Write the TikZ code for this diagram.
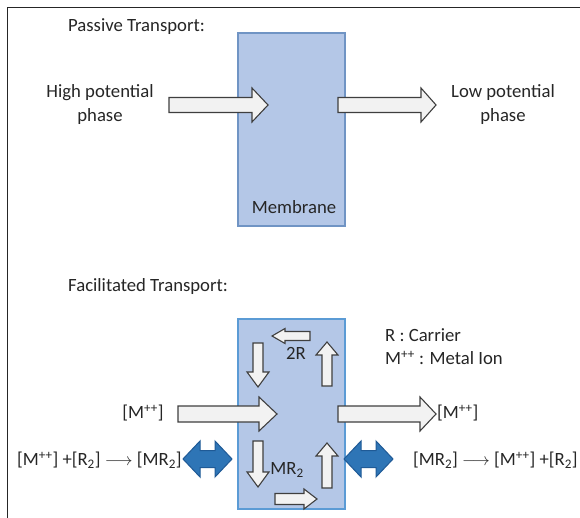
\documentclass[tikz,border=0pt]{standalone}
\usepackage{fontspec}
\setmainfont{Carlito}
\definecolor{membfill}{HTML}{B4C7E7}
\definecolor{membedgeA}{HTML}{7094C4}
\definecolor{membedgeB}{HTML}{5B9BD5}
\definecolor{arrfill}{HTML}{F2F2F2}
\definecolor{arredge}{HTML}{3F3F3F}
\definecolor{bluefill}{HTML}{2E75B6}
\definecolor{blueedge}{HTML}{1F5A96}
\definecolor{ink}{HTML}{262626}
% block arrow: style, tail point, direction angle, length, shaft half-width, head half-width, head length
\newcommand\blockarrow[7]{%
  \draw[#1, shift={(#2)}, rotate=#3]
    (0,-#5) -- ({#4-#7},-#5) -- ({#4-#7},-#6) -- (#4,0) -- ({#4-#7},#6)
    -- ({#4-#7},#5) -- (0,#5) -- cycle;}
% double-headed block arrow: style, left point, total length, shaft half-width, head half-width, head length
\newcommand\dblarrow[6]{%
  \draw[#1, shift={(#2)}]
    (0,0) -- (#6,-#5) -- (#6,-#4) -- ({#3-#6},-#4) -- ({#3-#6},-#5) -- (#3,0)
    -- ({#3-#6},#5) -- ({#3-#6},#4) -- (#6,#4) -- (#6,#5) -- cycle;}
\tikzset{
  lbl/.style={inner sep=0pt, text=ink, font=\fontsize{18.7}{24}\selectfont},
  membA/.style={fill=membfill, draw=membedgeA, line width=1.3pt},
  membB/.style={fill=membfill, draw=membedgeB, line width=1.3pt},
  grayarrow/.style={fill=arrfill, draw=arredge, line width=1.1pt, line join=miter},
  bluearrow/.style={fill=bluefill, draw=blueedge, line width=1pt, line join=miter},
}
\begin{document}
\begin{tikzpicture}[x=1pt,y=-1pt]
\useasboundingbox (0,0) rectangle (580,518);
\fill[white] (0,0) rectangle (580,518);
% frame
\draw[ink, line width=1.8pt] (7.5,518) -- (7.5,7.5) -- (580,7.5);

% ---- passive transport ----
\node[lbl, anchor=west] (passive) at (68,27) {Passive Transport:};
\draw[membA] (238,33) rectangle (345,226);
\node[lbl] (memb) at (294,207) {Membrane};
\blockarrow{grayarrow}{169,105}{0}{99}{7.5}{17}{16}
\blockarrow{grayarrow}{338,105}{0}{98}{7.5}{17}{15}
\node[lbl, align=center] (high) at (100,105) {High potential\\phase};
\node[lbl, align=center] (low) at (503,105) {Low potential\\phase};

% ---- facilitated transport ----
\node[lbl, anchor=west] (facil) at (68,287) {Facilitated Transport:};
\draw[membB] (238,319) rectangle (345,509);
% carrier cycle inside the membrane
\blockarrow{grayarrow}{310,336}{180}{38}{4.5}{7.5}{13}
\blockarrow{grayarrow}{258,343}{-90}{44}{5}{11}{15}
\blockarrow{grayarrow}{327,386}{90}{44}{5}{11}{13}
\blockarrow{grayarrow}{258,441}{-90}{46}{5}{11}{15}
\blockarrow{grayarrow}{327,488}{90}{45}{5}{11}{13}
\blockarrow{grayarrow}{275,499}{0}{42}{5.5}{10}{13}
\node[lbl] (twoR) at (296,353) {2R};
\node[lbl] (mr) at (287,470) {MR\textsubscript{2}};
% metal ion flux
\blockarrow{grayarrow}{178,414}{0}{99}{8}{17}{18}
\blockarrow{grayarrow}{338,414}{0}{98}{8}{17}{16}
\node[lbl] (mleft) at (143,413) {[M\textsuperscript{++}]};
\node[lbl, anchor=west] (mright) at (437,413) {[M\textsuperscript{++}]};
% legend
\node[lbl, anchor=west] (carrier) at (385,335) {R : Carrier};
\node[lbl, anchor=west] (metal) at (385,358) {M\textsuperscript{++} : Metal Ion};
% interface equilibria
\dblarrow{bluearrow}{183,459}{49}{8.5}{18}{17}
\dblarrow{bluearrow}{344,459}{49}{8.5}{18}{17}
\node[lbl, anchor=west] (eqleft) at (17,460) {[M\textsuperscript{++}] +[R\textsubscript{2}] $\longrightarrow$ [MR\textsubscript{2}]};
\node[lbl, anchor=west] (eqright) at (413,460) {[MR\textsubscript{2}] $\longrightarrow$ [M\textsuperscript{++}] +[R\textsubscript{2}]};
\end{tikzpicture}
\end{document}
